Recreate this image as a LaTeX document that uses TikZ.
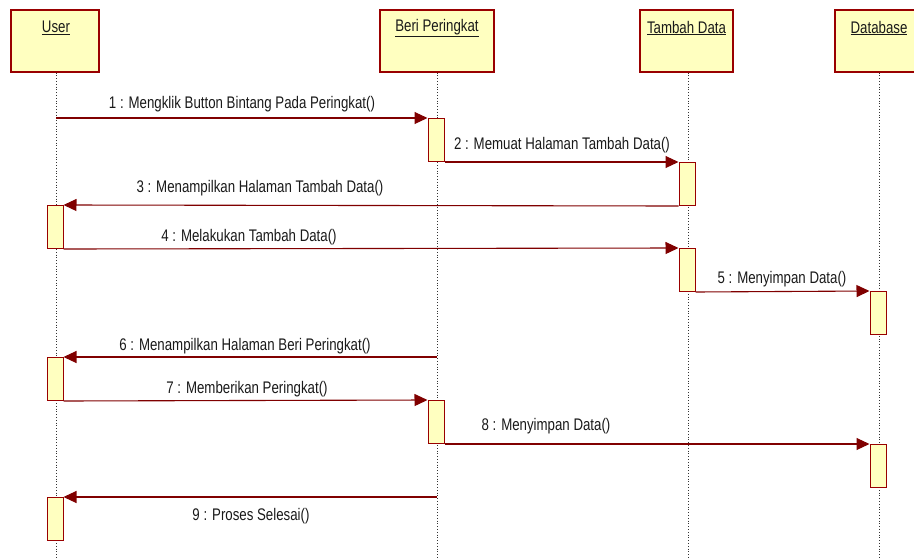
\documentclass[tikz,border=0pt]{standalone}
\usepackage{fontspec}
\setmainfont[FakeStretch=0.79]{Liberation Sans}
\usetikzlibrary{arrows.meta}
\definecolor{boxred}{RGB}{153,0,0}
\definecolor{boxfill}{RGB}{255,255,192}
\definecolor{msgred}{RGB}{128,0,0}
\begin{document}
\begin{tikzpicture}[x=1pt,y=-1pt,
 headbox/.style={draw=boxred, fill=boxfill, line width=1.1pt, minimum height=62pt, inner sep=0pt},
 actbox/.style={draw=boxred, fill=boxfill, line width=1pt, minimum width=16pt, minimum height=43pt, inner sep=0pt, anchor=north},
 lifeline/.style={draw=gray!40!black, dotted, line width=0.8pt},
 msg/.style={draw=msgred, line width=1.1pt, -{Triangle[length=13pt,width=12pt]}},
 lbl/.style={font=\fontsize{16.8}{19}\selectfont, text=black!90, inner sep=0pt},
 title/.style={font=\fontsize{16.8}{19}\selectfont, text=black!90, inner sep=0pt}]
\useasboundingbox (0,0) rectangle (914,560);

% heads
\node[headbox, minimum width=88pt] (user) at (55,41) {};
\node[headbox, minimum width=114pt] (beri) at (437,41) {};
\node[headbox, minimum width=93pt] (tambah) at (686.5,41) {};
\node[headbox, minimum width=88pt] (db) at (879,41) {};
\node[title] (tuser) at (56,28) {\underline{User}};
\node[title] (tberi) at (437,28) {\underline{Beri Peringkat}};
\node[title] (ttambah) at (686.5,28) {\underline{Tambah Data}};
\node[title] (tdb) at (879,28) {\underline{Database}};

% lifelines
\coordinate (uend) at (56,560);
\coordinate (bend) at (437,560);
\coordinate (tend) at (688,560);
\coordinate (dend) at (879,560);
\draw[lifeline] (user.south -| uend) -- (uend);
\draw[lifeline] (beri.south -| bend) -- (bend);
\draw[lifeline] (tambah.south -| tend) -- (tend);
\draw[lifeline] (db.south -| dend) -- (dend);

% activations
\node[actbox] (b1) at (436,118) {};
\node[actbox] (t1) at (687,162) {};
\node[actbox] (u1) at (55,205) {};
\node[actbox] (t2) at (687,248) {};
\node[actbox] (d1) at (878,291) {};
\node[actbox] (u2) at (55,357) {};
\node[actbox] (b2) at (436,400) {};
\node[actbox] (d2) at (878,444) {};
\node[actbox] (u3) at (55,497) {};

% free ends on lifelines
\coordinate (m1s) at (56,118);
\coordinate (m6s) at (437,357);
\coordinate (m9s) at (437,497);

% messages
\draw[msg] (m1s) -- (b1.north west);
\draw[msg] (b1.south east) -- (t1.north west);
\draw[msg] (t1.south west) -- (u1.north east);
\draw[msg] (u1.south east) -- (t2.north west);
\draw[msg] (t2.south east) -- (d1.north west);
\draw[msg] (m6s) -- (u2.north east);
\draw[msg] (u2.south east) -- (b2.north west);
\draw[msg] (b2.south east) -- (d2.north west);
\draw[msg] (m9s) -- (u3.north east);

% labels
\node[lbl] (l1) at (242,104) {1 : Mengklik Button Bintang Pada Peringkat()};
\node[lbl] (l2) at (562,145) {2 : Memuat Halaman Tambah Data()};
\node[lbl] (l3) at (260,188) {3 : Menampilkan Halaman Tambah Data()};
\node[lbl] (l4) at (249,237) {4 : Melakukan Tambah Data()};
\node[lbl] (l5) at (782,279) {5 : Menyimpan Data()};
\node[lbl] (l6) at (245,346) {6 : Menampilkan Halaman Beri Peringkat()};
\node[lbl] (l7) at (247,389) {7 : Memberikan Peringkat()};
\node[lbl] (l8) at (546,426) {8 : Menyimpan Data()};
\node[lbl] (l9) at (251,516) {9 : Proses Selesai()};
\end{tikzpicture}
\end{document}
